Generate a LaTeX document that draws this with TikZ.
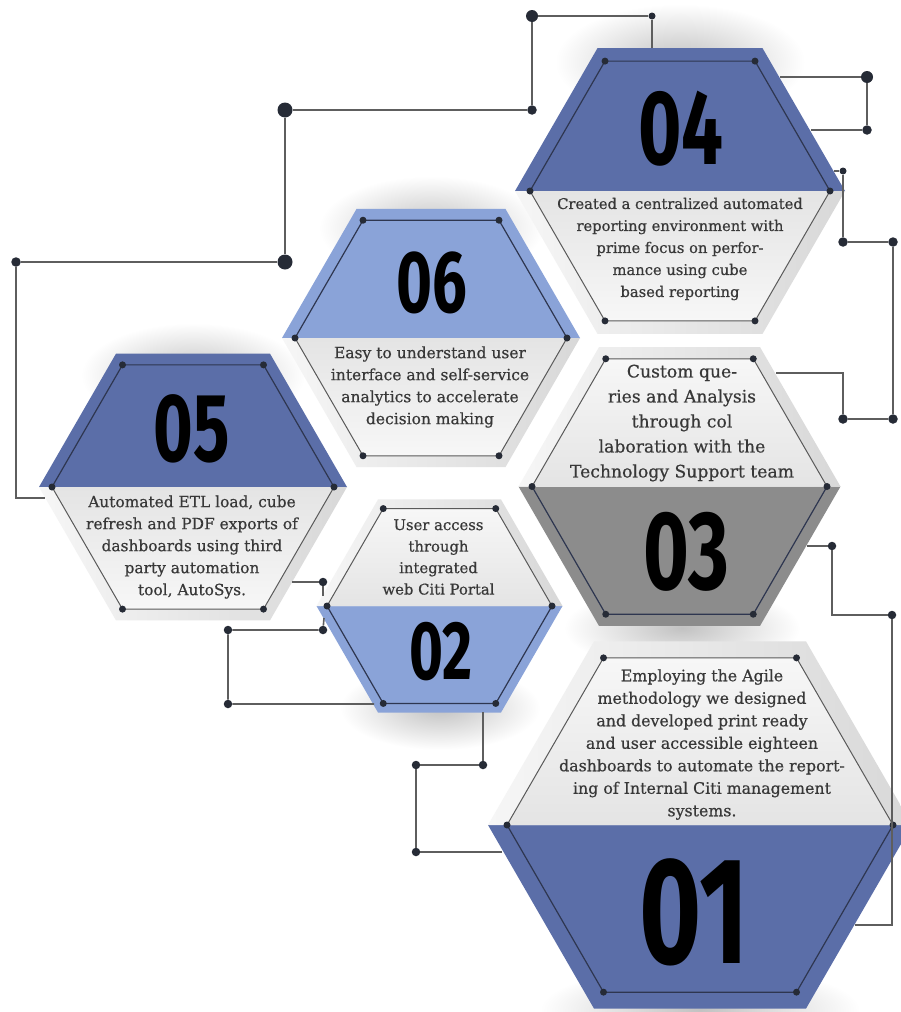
\documentclass[tikz,border=0pt]{standalone}
\usepackage{fontspec}
\setmainfont{DejaVu Serif}
\newfontfamily\numfont[FakeStretch=0.7]{Fira Sans}
\newfontfamily\txtfont[FakeBold=0.6]{DejaVu Serif}
\definecolor{blueD}{HTML}{5B6EA8}
\definecolor{blueL}{HTML}{8AA3D8}
\definecolor{greyC}{HTML}{8C8C8C}
\definecolor{lineD}{HTML}{2E3650}
\definecolor{lineG}{HTML}{5A5A5A}
\definecolor{dotC}{HTML}{262B36}
\definecolor{connC}{HTML}{5E5E5E}
\definecolor{txtC}{HTML}{383838}
\definecolor{lightA}{HTML}{E4E4E4}
\definecolor{lightB}{HTML}{F7F7F7}
\definecolor{bandA}{HTML}{F6F6F6}
\definecolor{bandB}{HTML}{D8D8D8}

\tikzset{
  vdot/.style={circle, fill=dotC, inner sep=0pt, minimum size=7pt},
  cdot/.style={circle, fill=dotC, inner sep=0pt, minimum size=8.5pt},
  cdotS/.style={cdot, minimum size=7pt},
  cdotM/.style={cdot, minimum size=9.5pt},
  cdotB/.style={cdot, minimum size=12pt},
  cdotH/.style={cdot, minimum size=15pt},
  conn/.style={draw=connC, line width=1.6pt},
  glow/.style={inner color=black!24, outer color=white},
  bodytext/.style={align=center, text=txtC, inner sep=0pt},
  numtext/.style={text=black, inner sep=0pt},
}

% #1 name, #2 cx, #3 cy, #4 inner r, #5 outer R, #6 colour, #7 0 = coloured top, 1 = coloured bottom
\newcommand\hexcell[7]{%
  \begin{scope}[shift={(#2,#3)}]
    \pgfmathsetmacro\hxR{0.866*#5}
    \pgfmathsetmacro\hxr{0.866*#4}
    \coordinate (#1) at (0,0);
    \ifnum#7=0
      \fill[#6] ({-#5},0) -- ({-#5/2},{-\hxR}) -- ({#5/2},{-\hxR}) -- ({#5},0) -- cycle;
      \shade[left color=bandA, right color=bandB] ({-#5},0) -- ({-#5/2},{\hxR}) -- ({#5/2},{\hxR}) -- ({#5},0) -- cycle;
      \shade[top color=lightA, bottom color=lightB] ({-#4},0) -- ({-#4/2},{\hxr}) -- ({#4/2},{\hxr}) -- ({#4},0) -- cycle;
      \draw[lineD, line width=1.2pt] ({-#4},0) -- ({-#4/2},{-\hxr}) -- ({#4/2},{-\hxr}) -- ({#4},0);
      \draw[lineG, line width=1pt] ({-#4},0) -- ({-#4/2},{\hxr}) -- ({#4/2},{\hxr}) -- ({#4},0);
    \else
      \fill[#6] ({-#5},0) -- ({-#5/2},{\hxR}) -- ({#5/2},{\hxR}) -- ({#5},0) -- cycle;
      \shade[left color=bandA, right color=bandB] ({-#5},0) -- ({-#5/2},{-\hxR}) -- ({#5/2},{-\hxR}) -- ({#5},0) -- cycle;
      \shade[top color=lightB, bottom color=lightA] ({-#4},0) -- ({-#4/2},{-\hxr}) -- ({#4/2},{-\hxr}) -- ({#4},0) -- cycle;
      \draw[lineD, line width=1.2pt] ({-#4},0) -- ({-#4/2},{\hxr}) -- ({#4/2},{\hxr}) -- ({#4},0);
      \draw[lineG, line width=1pt] ({-#4},0) -- ({-#4/2},{-\hxr}) -- ({#4/2},{-\hxr}) -- ({#4},0);
    \fi
    \foreach \a [count=\i] in {0,60,...,300} \node[vdot] (#1-v\i) at (\a:#4) {};
  \end{scope}}

\begin{document}
\begin{tikzpicture}[x=1pt, y=-1pt]
\useasboundingbox (0,0) rectangle (901,1012);
\clip (0,0) rectangle (901,1012);
\fill[white] (0,0) rectangle (901,1012);

% soft shadows
\shade[glow] (680,62) ellipse (125 and 58);
\shade[glow] (431,228) ellipse (112 and 52);
\shade[glow] (193,375) ellipse (112 and 52);
\shade[glow] (440,708) ellipse (100 and 42);
\shade[glow] (682,628) ellipse (118 and 42);
\shade[glow] (700,1010) ellipse (160 and 45);

% hexagons
\hexcell{h04}{680}{191}{150}{165}{blueD}{0}
\hexcell{h06}{431}{338}{136}{149}{blueL}{0}
\hexcell{h05}{193}{487}{141}{154}{blueD}{0}
\hexcell{h02}{439.5}{606}{112.5}{123}{blueL}{1}
\hexcell{h03}{679.5}{486.5}{147.5}{161}{greyC}{1}
\hexcell{h01}{700}{825}{193}{212}{blueD}{1}

% numbers
\node[numtext, font=\numfont\bfseries\fontsize{106}{106}\selectfont] (n04) at (681,128.5) {04};
\node[numtext, font=\numfont\bfseries\fontsize{88}{88}\selectfont] (n06) at (431.5,282.5) {06};
\node[numtext, font=\numfont\bfseries\fontsize{97}{97}\selectfont] (n05) at (192,428.5) {05};
\node[numtext, font=\numfont\bfseries\fontsize{83}{83}\selectfont] (n02) at (441,651.5) {02};
\node[numtext, font=\numfont\bfseries\fontsize{112}{112}\selectfont] (n03) at (686,551.5) {03};
\node[numtext, font=\numfont\bfseries\fontsize{152}{152}\selectfont] (n01) at (694,912.5) {01};

% texts
\node[bodytext, font=\txtfont\fontsize{14.7}{22}\selectfont] (t04) at (680,249)
  {Created a centralized automated\\reporting environment with\\prime focus on perfor-\\mance using cube\\based reporting};
\node[bodytext, font=\txtfont\fontsize{15.5}{22}\selectfont] (t06) at (430,387)
  {Easy to understand user\\interface and self-service\\analytics to accelerate\\decision making};
\node[bodytext, font=\txtfont\fontsize{15.4}{22}\selectfont] (t05) at (192,547)
  {Automated ETL load, cube\\refresh and PDF exports of\\dashboards using third\\party automation\\tool, AutoSys.};
\node[bodytext, font=\txtfont\fontsize{14.8}{21.5}\selectfont] (t02) at (438.5,557)
  {User access\\through\\integrated\\web Citi Portal};
\node[bodytext, font=\txtfont\fontsize{17.2}{25}\selectfont] (t03) at (682,423)
  {Custom que-\\ries and Analysis\\through col\\laboration with the\\Technology Support team};
\node[bodytext, font=\txtfont\fontsize{15.8}{22.5}\selectfont] (t01) at (702,744.5)
  {Employing the Agile\\methodology we designed\\and developed print ready\\and user accessible eighteen\\dashboards to automate the report-\\ing of Internal Citi management\\systems.};

% connector A: 04 top to 05 left
\coordinate (a0) at (652,48);
\node[cdotS] (a1) at (652,16) {};
\node[cdotB] (a2) at (532,16) {};
\node[cdotM] (a3) at (532,110) {};
\node[cdotH] (a4) at (285,110) {};
\node[cdotH] (a5) at (285,262) {};
\node[cdotM] (a6) at (16,262) {};
\coordinate (a7) at (16,498);
\coordinate (a8) at (45,498);
\draw[conn] (a0) -- (a1) -- (a2) -- (a3) -- (a4) -- (a5) -- (a6) -- (a7) -- (a8);

% connector B: 04 right loop
\coordinate (b0) at (780,77);
\node[cdotB] (b1) at (867,77) {};
\node[cdotM] (b2) at (867,130) {};
\coordinate (b3) at (811,130);
\draw[conn] (b0) -- (b1) -- (b2) -- (b3);

% connector C: 04 to 03
\coordinate (c0) at (834,171);
\node[cdotS] (c1) at (843,171) {};
\node[cdotM] (c2) at (843,242) {};
\node[cdotM] (c3) at (893,242) {};
\node[cdotM] (c4) at (893,419) {};
\node[cdotM] (c5) at (843,419) {};
\coordinate (c6) at (843,373);
\coordinate (c7) at (776,373);
\draw[conn] (c0) -- (c1) -- (c2) -- (c3) -- (c4) -- (c5) -- (c6) -- (c7);

% connector D: 03 to 01
\coordinate (d0) at (807,546);
\node[cdot] (d1) at (832,546) {};
\coordinate (d2) at (832,615);
\node[cdot] (d3) at (892,615) {};
\coordinate (d4) at (892,925);
\coordinate (d5) at (855,925);
\draw[conn] (d0) -- (d1) -- (d2) -- (d3) -- (d4) -- (d5);

% connector E: 05 to 02
\coordinate (e0) at (292,582);
\node[cdot] (e1) at (323,582) {};
\coordinate (e2) at (323,596);
\draw[conn] (e0) -- (e1) -- (e2);

% connector F: 02 loop
\coordinate (f0) at (324,618);
\node[cdot] (f1) at (323,630) {};
\node[cdot] (f2) at (228,630) {};
\node[cdot] (f3) at (228,704) {};
\coordinate (f4) at (374,704);
\draw[conn] (f0) -- (f1) -- (f2) -- (f3) -- (f4);

% connector G: 02 to 01
\coordinate (g0) at (483,712);
\node[cdot] (g1) at (483,765) {};
\node[cdot] (g2) at (416,765) {};
\node[cdot] (g3) at (416,852) {};
\coordinate (g4) at (502,852);
\draw[conn] (g0) -- (g1) -- (g2) -- (g3) -- (g4);
\end{tikzpicture}
\end{document}
